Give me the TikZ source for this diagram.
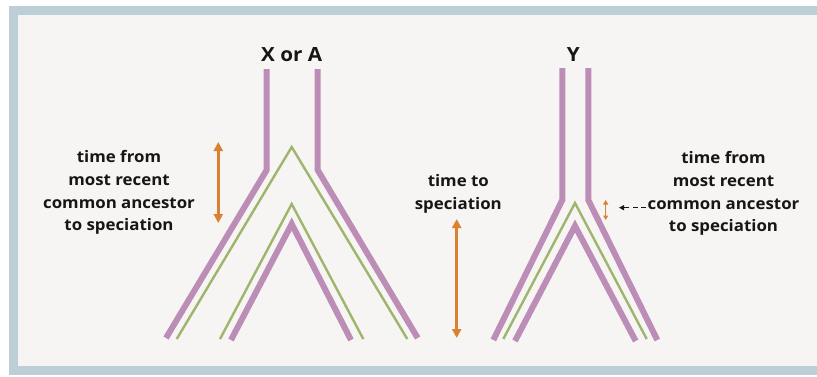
\documentclass[tikz,border=0pt]{standalone}
\usepackage{fontspec}
\setmainfont{Open Sans}[BoldFeatures={FakeStretch=1.06}]
\usetikzlibrary{arrows.meta}
\definecolor{frameblue}{HTML}{BCCFD7}
\definecolor{paper}{HTML}{F6F5F3}
\definecolor{mauve}{HTML}{BB8DB7}
\definecolor{olive}{HTML}{9FB56D}
\definecolor{amber}{HTML}{DA8230}
\definecolor{ink}{HTML}{161616}
\tikzset{
  lineage/.style={draw=mauve, line width=6pt, line join=miter, line cap=butt},
  gene/.style={draw=olive, line width=2.4pt, line join=miter, line cap=butt},
  span/.style={draw=amber, line width=3pt, {Triangle[width=9pt,length=9pt]}-{Triangle[width=9pt,length=9pt]}},
  smallspan/.style={draw=amber, line width=1.4pt, {Triangle[width=5pt,length=4.5pt]}-{Triangle[width=5pt,length=4.5pt]}},
  pointer/.style={draw=ink, line width=1pt, dash pattern=on 5pt off 3.5pt, -{Triangle[width=5pt,length=5pt]}},
  label/.style={text=ink, font=\bfseries\fontsize{15.9}{22.8}\selectfont, align=center, inner sep=0pt},
  title/.style={text=ink, font=\bfseries\fontsize{19.5}{21}\selectfont, inner sep=0pt}
}
\begin{document}
\begin{tikzpicture}[x=1pt,y=-1pt]
\useasboundingbox (0,0) rectangle (817,376);
% panel
\fill[white] (0,0) rectangle (817,376);
\fill[frameblue] (9,6) rectangle (817,375);
\fill[paper] (18,15) rectangle (817,366);

% ---- left tree (X or A) ----
\coordinate (la1) at (266.7,69);  \coordinate (la2) at (266.7,170); \coordinate (la3) at (166,338);
\coordinate (lb1) at (317.7,69);  \coordinate (lb2) at (317.7,170); \coordinate (lb3) at (417.7,338);
\draw[lineage] (la1) -- (la2) -- (la3);
\draw[lineage] (lb1) -- (lb2) -- (lb3);
\coordinate (lgo) at (291.7,147);
\draw[gene] (176.7,339) -- (lgo) -- (407.3,339);
\coordinate (lgi) at (291.7,204);
\draw[gene] (220,339) -- (lgi) -- (363.3,339);
\coordinate (lpi) at (291.7,224);
\draw[lineage] (231,340) -- (lpi) -- (351,340);

% ---- right tree (Y) ----
\coordinate (ra1) at (562.3,68); \coordinate (ra2) at (562.3,200); \coordinate (ra3) at (493.3,340);
\coordinate (rb1) at (588.3,68); \coordinate (rb2) at (588.3,200); \coordinate (rb3) at (657.3,340);
\draw[lineage] (ra1) -- (ra2) -- (ra3);
\draw[lineage] (rb1) -- (rb2) -- (rb3);
\coordinate (rg) at (575,203);
\draw[gene] (503.3,339) -- (rg) -- (646.7,339);
\coordinate (rp) at (575,226);
\draw[lineage] (515,341) -- (rp) -- (635.7,341);

% ---- titles ----
\node[title] (tXA) at (291.7,55) {X or A};
\node[title] (tY) at (573.3,55) {Y};

% ---- time spans ----
\coordinate (s1a) at (218.3,142); \coordinate (s1b) at (218.3,223);
\draw[span] (s1a) -- (s1b);
\coordinate (s2a) at (456.7,219); \coordinate (s2b) at (456.7,338);
\draw[span] (s2a) -- (s2b);
\coordinate (s3a) at (605.7,200); \coordinate (s3b) at (605.7,220);
\draw[smallspan] (s3a) -- (s3b);

% ---- labels ----
\node[label] (lmrca) at (119,192.5) {time from\\most recent\\common ancestor\\to speciation};
\node[label] (lspec) at (458.3,194) {time to\\speciation};
\node[label] (rmrca) at (723.5,193.5) {time from\\most recent\\common ancestor\\to speciation};
\coordinate (ptip) at (619,207.7);
\draw[pointer] (rmrca.west |- ptip) ++(-1,0) -- (ptip);
\end{tikzpicture}
\end{document}
